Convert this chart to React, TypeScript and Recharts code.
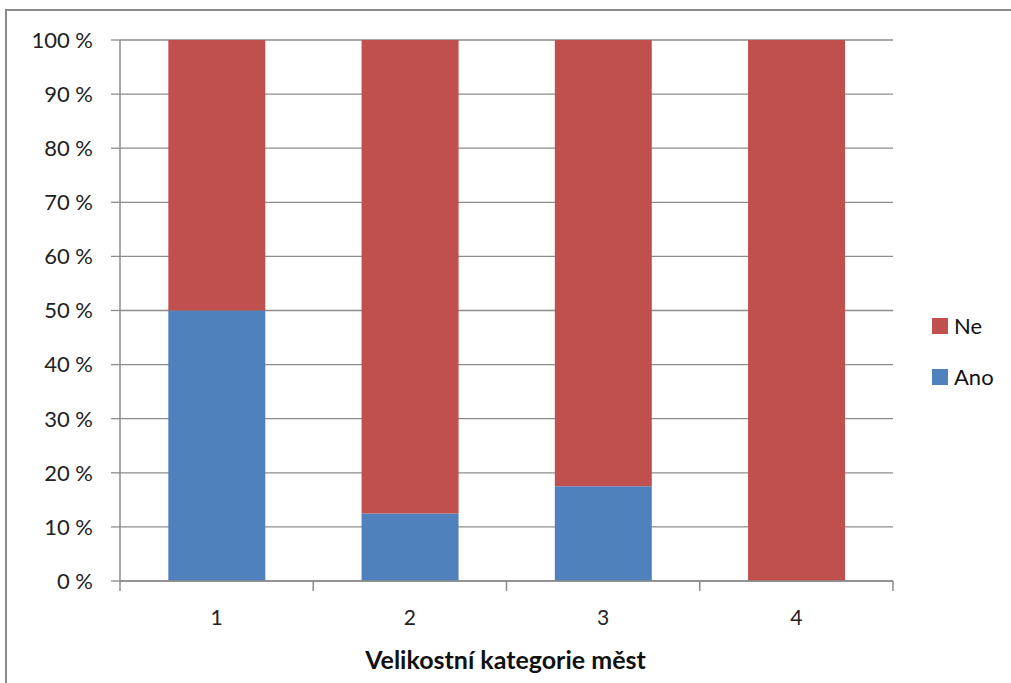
import React from "react";
import { BarChart, Bar, XAxis, YAxis, CartesianGrid } from "recharts";

const categories = ["1", "2", "3", "4"];
const anoValues = [50, 12.5, 17.5, 0];
const neValues = [50, 87.5, 82.5, 100];
const yTicks = [0, 10, 20, 30, 40, 50, 60, 70, 80, 90, 100];

const RED = "#C0504D";
const BLUE = "#4F81BD";
const AXIS = "#8C8C8C";
const FONT = "Lato, 'Open Sans', sans-serif";

const data = categories.map((c, i) => ({ name: c, Ano: anoValues[i], Ne: neValues[i] }));

const legendItems = [
  { label: "Ne", color: RED },
  { label: "Ano", color: BLUE },
];

const XTick = (props: any) => {
  const { x, y, payload, index } = props;
  const off = payload.offset || 0;
  const last = index === categories.length - 1;
  return (
    <g>
      <line x1={x - off} x2={x - off} y1={y - 8} y2={y + 2} stroke={AXIS} strokeWidth={1.5} />
      {last && <line x1={x + off} x2={x + off} y1={y - 8} y2={y + 2} stroke={AXIS} strokeWidth={1.5} />}
      <text x={x} y={y + 36} textAnchor="middle" fill="#222" fontSize={21} fontFamily={FONT}>
        {payload.value}
      </text>
    </g>
  );
};

export default function App() {
  return (
    <div style={{ position: "relative", width: 1011, height: 683, overflow: "hidden", background: "#fff" }}>
      <style>{"html,body{margin:0;padding:0;overflow:hidden}"}</style>
      <div style={{ position: "absolute", left: 0, top: 0 }}>
        <BarChart
          width={1011}
          height={683}
          data={data}
          margin={{ top: 40, right: 118, left: 40, bottom: 62 }}
          barCategoryGap="25%"
        >
          <CartesianGrid vertical={false} stroke={AXIS} strokeWidth={1.3} />
          <XAxis
            dataKey="name"
            axisLine={{ stroke: AXIS, strokeWidth: 1.5 }}
            tickLine={false}
            tick={<XTick />}
            height={40}
            interval={0}
          />
          <YAxis
            domain={[0, 100]}
            ticks={yTicks}
            width={80}
            axisLine={{ stroke: AXIS, strokeWidth: 1.5 }}
            tickLine={{ stroke: AXIS, strokeWidth: 1.3 }}
            tickSize={9}
            tick={{ fill: "#222", fontSize: 22, fontFamily: FONT }}
            tickFormatter={(v: number) => `${v} %`}
            tickMargin={18}
          />
          <Bar dataKey="Ano" stackId="a" fill={BLUE} isAnimationActive={false} />
          <Bar dataKey="Ne" stackId="a" fill={RED} isAnimationActive={false} />
        </BarChart>
      </div>
      <div
        style={{
          position: "absolute",
          left: 5,
          top: 9,
          width: 1100,
          height: 800,
          borderLeft: "2px solid #8a8a8a",
          borderTop: "2px solid #8a8a8a",
          boxSizing: "border-box",
          pointerEvents: "none",
          zIndex: 2,
        }}
      />
      <div style={{ position: "absolute", left: 932, top: 300, fontFamily: FONT, fontSize: 22, color: "#111" }}>
        {legendItems.map((it) => (
          <div key={it.label} style={{ display: "flex", alignItems: "center", height: 51 }}>
            <div style={{ width: 16, height: 16, background: it.color, marginRight: 6 }} />
            <span>{it.label}</span>
          </div>
        ))}
      </div>
      <div
        style={{
          position: "absolute",
          left: 0,
          width: 1011,
          top: 644,
          textAlign: "center",
          fontFamily: FONT,
          fontWeight: "bold",
          fontSize: 25,
          color: "#111",
        }}
      >
        Velikostní kategorie měst
      </div>
    </div>
  );
}
